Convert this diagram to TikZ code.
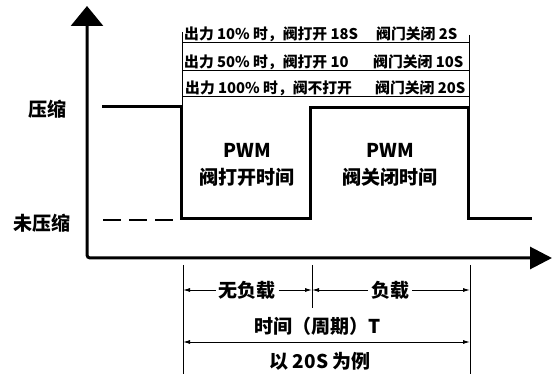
\documentclass[tikz,border=0pt]{standalone}
\usepackage{fontspec}
\newfontfamily\cjk{Noto Sans CJK SC}
\usetikzlibrary{arrows.meta}
\begin{document}
\begin{tikzpicture}[x=1pt,y=-1pt,
  lbl/.style={font=\cjk\bfseries\fontsize{19}{22}\selectfont, inner sep=0pt},
  rowtxt/.style={font=\cjk\bfseries\fontsize{14.8}{16}\selectfont, inner sep=0pt, anchor=base west},
  wave/.style={line width=3pt, line join=miter},
  thinline/.style={line width=0.9pt},
  dim/.style={line width=0.9pt, -{Latex[length=7pt,width=4pt]}},
  axisline/.style={line width=3pt}]
\useasboundingbox (0,0) rectangle (552,374);

% axes
\coordinate (Ytop) at (87,6);
\coordinate (O) at (87,258);
\coordinate (Xend) at (552,258);
\draw[axisline, rounded corners=3pt, {Triangle[length=20pt,width=32pt]}-{Triangle[length=22pt,width=22pt]}] (Ytop) -- (O) -- (Xend);

% waveform
\coordinate (w0) at (102,107);
\coordinate (w1) at (181,107);
\coordinate (w2) at (181,219);
\coordinate (w3) at (310,219);
\coordinate (w4) at (310,108);
\coordinate (w5) at (468,108);
\coordinate (w6) at (468,219);
\coordinate (w7) at (532,219);
\draw[wave] (w0) -- (w1) -- (w2) -- (w3) -- (w4) -- (w5) -- (w6) -- (w7);
\coordinate (d0) at (103,220);
\coordinate (d1) at (176,220);
\draw[line width=1.2pt, dash pattern=on 18pt off 8pt] (d0) -- (d1);

% level labels
\node[lbl] (hi) at (47,109) {压缩};
\node[lbl] (lo) at (42,223) {未压缩};

% PWM labels
\node[lbl] (p1) at (247,150) {PWM};
\node[lbl] (p1b) at (247,177) {阀打开时间};
\node[lbl] (p2) at (390,150) {PWM};
\node[lbl] (p2b) at (390,177) {阀关闭时间};

% top table
\coordinate (tl0) at (182,32);
\coordinate (tl1) at (182,107);
\coordinate (tr0) at (469,35);
\coordinate (tr1) at (469,108);
\draw[thinline] (tl0) -- (tl1);
\draw[thinline] (tr0) -- (tr1);
\foreach \yy in {42,70,96} {
  \draw[thinline] (182,\yy) -- (469,\yy);
}
\node[rowtxt] (r1a) at (184,39.5) {出力 10\% 时，阀打开 18S};
\node[rowtxt] (r1b) at (376,39.5) {阀门关闭 2S};
\node[rowtxt] (r2a) at (184,67.5) {出力 50\% 时，阀打开 10};
\node[rowtxt] (r2b) at (373,67.5) {阀门关闭 10S};
\node[rowtxt] (r3a) at (185,93.5) {出力 100\% 时，阀不打开};
\node[rowtxt] (r3b) at (375,93.5) {阀门关闭 20S};

% bottom dimensions
\coordinate (bl0) at (183,265);
\coordinate (bl1) at (183,374);
\coordinate (bm0) at (312,265);
\coordinate (bm1) at (312,308);
\coordinate (br0) at (470,265);
\coordinate (br1) at (470,374);
\draw[thinline] (bl0) -- (bl1);
\draw[thinline] (bm0) -- (bm1);
\draw[thinline] (br0) -- (br1);

\node[lbl, outer sep=3pt] (nofz) at (247,290) {无负载};
\node[lbl, outer sep=3pt] (fz) at (390,290) {负载};
\coordinate (aL) at (183,290);
\coordinate (aM) at (312,290);
\coordinate (aR) at (470,290);
\draw[dim] (nofz.west) -- (aL);
\draw[dim] (nofz.east) -- (aM);
\draw[dim] (fz.west) -- (aM);
\draw[dim] (fz.east) -- (aR);

\node[lbl] (per) at (318,326) {时间（周期）T};
\coordinate (tL) at (183,342);
\coordinate (tR) at (470,342);
\draw[line width=0.9pt, {Latex[length=7pt,width=4pt]}-{Latex[length=7pt,width=4pt]}] (tL) -- (tR);
\node[lbl] (ex) at (320,361) {以 20S 为例};
\end{tikzpicture}
\end{document}
